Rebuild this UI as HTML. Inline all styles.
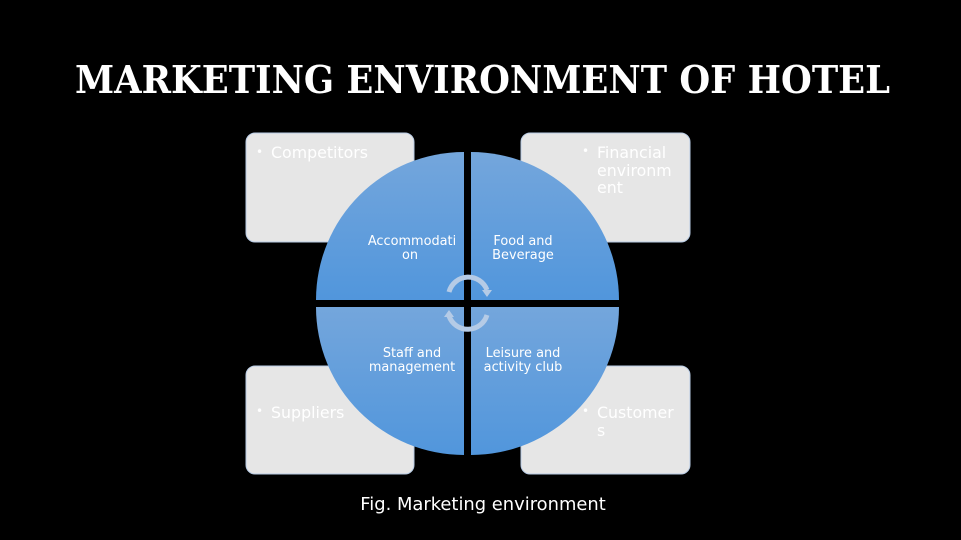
<!DOCTYPE html><html><head><style>html,body{margin:0;background:#000;width:961px;height:540px;overflow:hidden}svg{display:block}</style></head><body>
<svg width="961" height="540" xmlns="http://www.w3.org/2000/svg">
<defs><linearGradient id="g" x1="0" y1="0" x2="0" y2="1"><stop offset="0" stop-color="#74a6dc"/><stop offset="1" stop-color="#5196dc"/></linearGradient></defs>
<rect width="961" height="540" fill="#000"/>
<text x="75" y="93" textLength="815" lengthAdjust="spacingAndGlyphs" font-family="DejaVu Serif, Liberation Serif, serif" font-weight="bold" font-size="38" fill="#fff">MARKETING ENVIRONMENT OF HOTEL</text>
<g fill="#e6e6e6" stroke="#b8cbe4" stroke-width="1">
<rect x="246" y="133" width="168" height="109" rx="9"/>
<rect x="521" y="133" width="169" height="109" rx="9"/>
<rect x="246" y="366" width="168" height="108" rx="9"/>
<rect x="521" y="366" width="169" height="108" rx="9"/>
</g>
<g font-family="DejaVu Sans, sans-serif" font-size="15.8" fill="#fff">
<text x="256" y="156" font-size="12">•</text><text x="271" y="158">Competitors</text>
<text x="582" y="155" font-size="12">•</text><text x="597" y="158">Financial</text><text x="597" y="176">environm</text><text x="597" y="193">ent</text>
<text x="256" y="415" font-size="12">•</text><text x="271" y="418">Suppliers</text>
<text x="582" y="415" font-size="12">•</text><text x="597" y="418">Customer</text><text x="597" y="436">s</text>
</g>
<g fill="url(#g)">
<path d="M464 300 L316 300 A148 148 0 0 1 464 152 Z"/>
<path d="M471 300 L471 152 A148 148 0 0 1 619 300 Z"/>
<path d="M464 307 L464 455 A148 148 0 0 1 316 307 Z"/>
<path d="M471 307 L619 307 A148 148 0 0 1 471 455 Z"/>
</g>
<g fill="none" stroke="#b5cbe6" stroke-width="5">
<path d="M449 292 A20 20 0 0 1 487 290"/>
<path d="M487 315 A20 20 0 0 1 449 316"/>
</g>
<g fill="#b5cbe6"><path d="M482 290 L492 290 L487 297Z"/><path d="M444 317 L454 317 L449 310Z"/></g>
<g font-family="DejaVu Sans, sans-serif" font-size="12.9" fill="#fff" text-anchor="middle">
<text x="412" y="245">Accommodati</text><text x="410" y="259">on</text>
<text x="523" y="245">Food and</text><text x="523" y="259">Beverage</text>
<text x="412" y="357">Staff and</text><text x="412" y="371">management</text>
<text x="523" y="357">Leisure and</text><text x="523" y="371">activity club</text>
</g>
<text x="483" y="510" text-anchor="middle" font-family="DejaVu Sans, sans-serif" font-size="17.9" fill="#fff">Fig. Marketing environment</text>
</svg></body></html>
